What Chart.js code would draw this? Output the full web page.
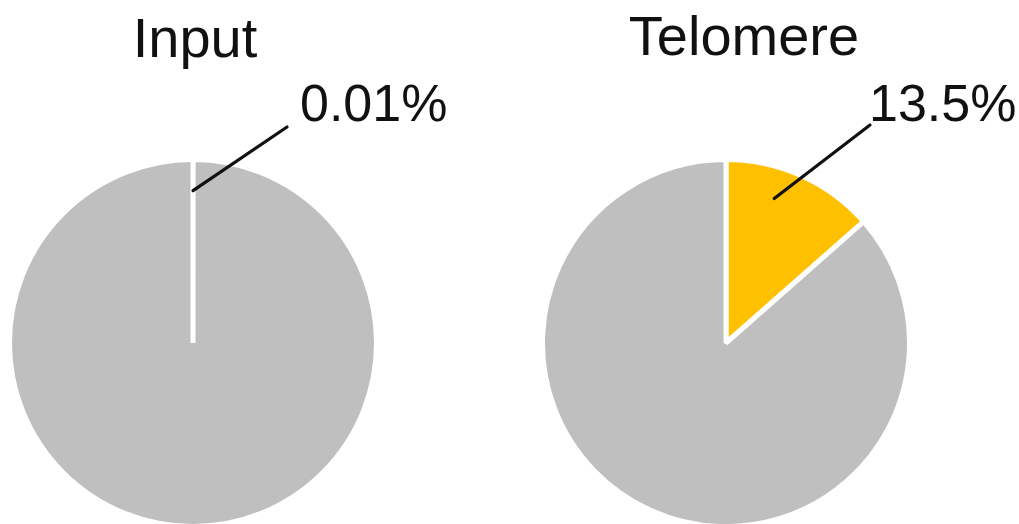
<!DOCTYPE html>
<html>
<head>
<meta charset="utf-8">
<script src="https://cdn.jsdelivr.net/npm/chart.js@4/dist/chart.umd.min.js"></script>
<style>
  html, body { margin: 0; padding: 0; background: #ffffff; }
  #wrap { position: relative; width: 1019px; height: 524px; overflow: hidden; }
  #wrap canvas { position: absolute; left: 0; top: 0; }
</style>
</head>
<body>
<div id="wrap">
  <canvas id="pieInput" width="1019" height="524"></canvas>
  <canvas id="pieTelomere" width="1019" height="524"></canvas>
</div>
<script>
// Panel titles
const panels = ['Input', 'Telomere'];
// Share of reads in the highlighted slice (%)
const targetShare = [0.01, 13.5];
// Remaining share (%)
const otherShare = [99.99, 86.5];
// Slice colours: highlighted, remainder
const sliceColors = ['#ffc000', '#bfbfbf'];

// Layout of each panel (pixels)
const layoutSpec = [
  { cx: 193, cy: 343, title: { x: 195, y: 57 }, leaderEnd: { x: 287, y: 127 }, label: { x: 300, y: 121 } },
  { cx: 726, cy: 343, title: { x: 744, y: 55 }, leaderEnd: { x: 870, y: 125 }, label: { x: 869, y: 121 } }
];
const RADIUS = 183.5;
const W = 1019, H = 524;

const calloutPlugin = {
  id: 'callout',
  afterDraw(chart, args, opts) {
    const ctx = chart.ctx;
    const spec = layoutSpec[opts.index];
    const arc = chart.getDatasetMeta(0).data[0];
    const props = arc.getProps(['x', 'y', 'startAngle', 'endAngle', 'outerRadius'], true);
    const a = props.startAngle + (props.endAngle - props.startAngle) * 0.38;
    const r = props.outerRadius * 0.83;
    const ax = props.x + Math.cos(a) * r;
    const ay = props.y + Math.sin(a) * r;

    ctx.save();
    // leader line
    ctx.strokeStyle = '#111111';
    ctx.lineWidth = 3.2;
    ctx.lineCap = 'round';
    ctx.beginPath();
    ctx.moveTo(ax, ay);
    ctx.lineTo(spec.leaderEnd.x, spec.leaderEnd.y);
    ctx.stroke();

    // value label
    ctx.fillStyle = '#111111';
    ctx.textBaseline = 'alphabetic';
    ctx.textAlign = 'left';
    ctx.font = '52px "Liberation Sans", Arial, sans-serif';
    ctx.fillText(targetShare[opts.index] + '%', spec.label.x, spec.label.y);

    // panel title
    ctx.textAlign = 'center';
    ctx.font = '56px "Liberation Sans", Arial, sans-serif';
    ctx.fillText(panels[opts.index], spec.title.x, spec.title.y);
    ctx.restore();
  }
};

function makePie(canvasId, i) {
  const spec = layoutSpec[i];
  const r = 180;
  return new Chart(document.getElementById(canvasId), {
    type: 'pie',
    data: {
      labels: ['Target', 'Other'],
      datasets: [{
        data: [targetShare[i], otherShare[i]],
        backgroundColor: sliceColors,
        borderColor: '#ffffff',
        borderWidth: 5
      }]
    },
    options: {
      responsive: false,
      animation: false,
      radius: RADIUS,
      layout: {
        padding: {
          left: spec.cx - r,
          right: W - (spec.cx + r),
          top: spec.cy - r,
          bottom: H - (spec.cy + r)
        }
      },
      plugins: {
        legend: { display: false },
        tooltip: { enabled: false },
        title: { display: false },
        callout: { index: i }
      }
    },
    plugins: [calloutPlugin]
  });
}

makePie('pieInput', 0);
makePie('pieTelomere', 1);
</script>
</body>
</html>
